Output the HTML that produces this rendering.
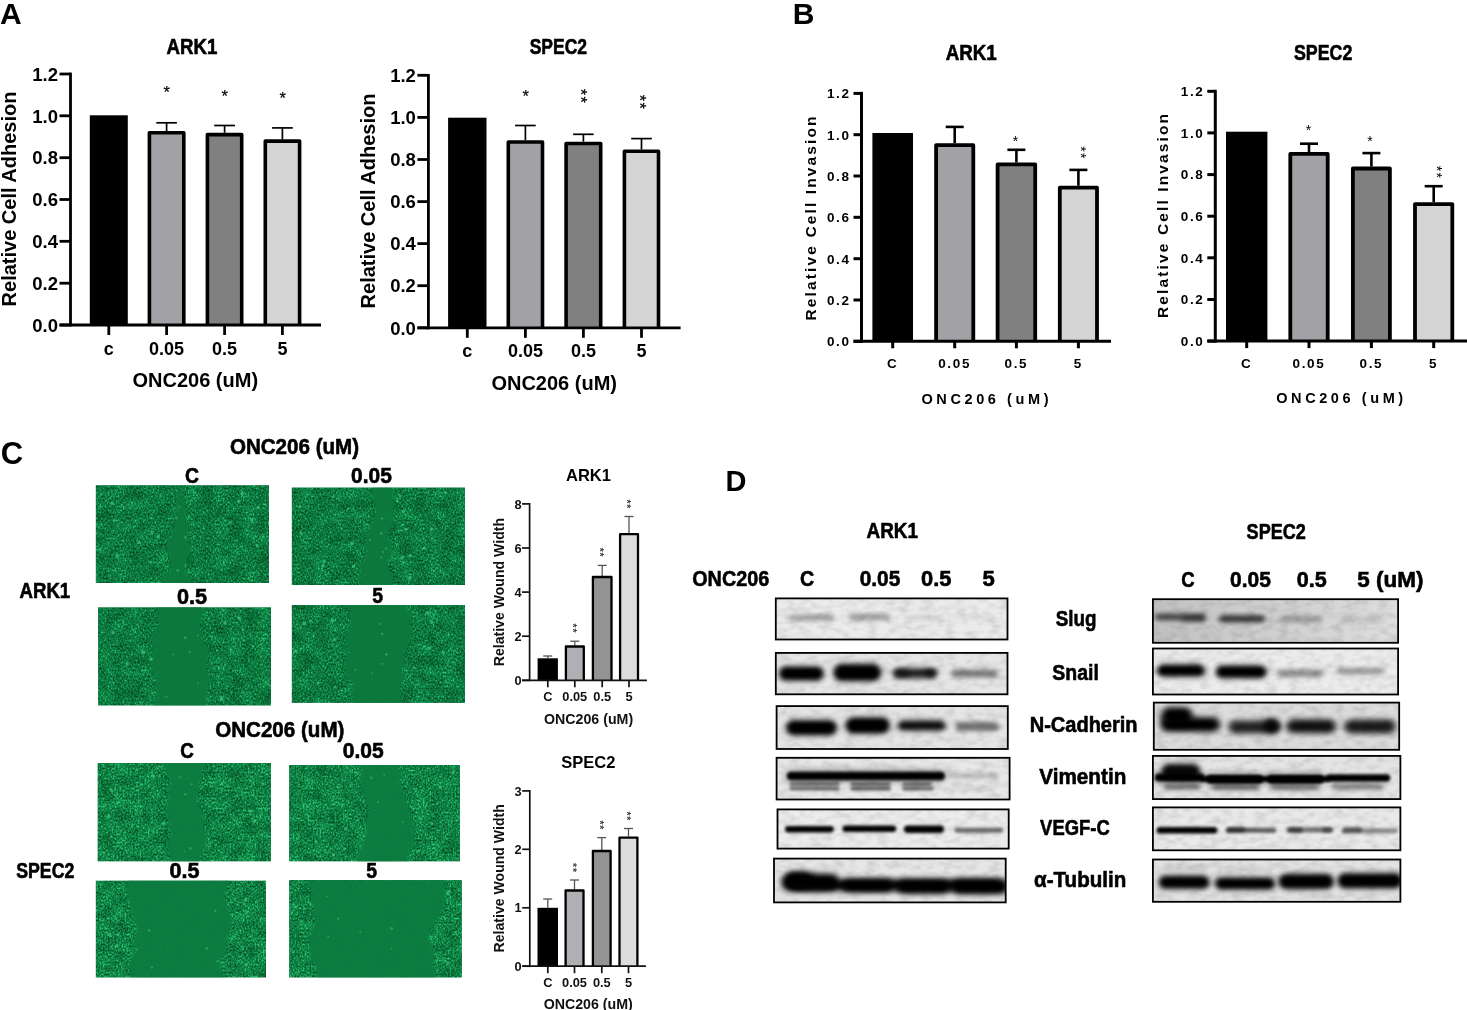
<!DOCTYPE html>
<html><head><meta charset="utf-8"><title>Figure</title>
<style>
html,body{margin:0;padding:0;background:#fff;}
body{width:1467px;height:1010px;overflow:hidden;}
svg{display:block;font-family:"Liberation Sans",sans-serif;}
</style></head><body>
<svg width="1467" height="1010" viewBox="0 0 1467 1010">
<defs>
<filter id="noiseA" x="0" y="0" width="100%" height="100%" color-interpolation-filters="sRGB">
<feTurbulence type="fractalNoise" baseFrequency="0.6 0.5" numOctaves="2" seed="7" result="t"/>
<feColorMatrix in="t" type="matrix" values="1.7 0 0 0 -0.35  1.7 0 0 0 -0.35  1.7 0 0 0 -0.35  0 0 0 0 1" result="c"/>
<feTurbulence type="fractalNoise" baseFrequency="0.07 0.09" numOctaves="2" seed="27" result="t2"/>
<feColorMatrix in="t2" type="matrix" values="0 1 0 0 0  0 1 0 0 0  0 1 0 0 0  0 0 0 0 1" result="c2"/>
<feComposite in="c" in2="c2" operator="arithmetic" k1="0" k2="1" k3="0.6" k4="-0.3" result="m"/>
<feComponentTransfer in="m">
<feFuncR type="table" tableValues="0.02 0.03 0.04 0.06 0.09 0.16"/>
<feFuncG type="table" tableValues="0.28 0.36 0.44 0.51 0.61 0.76"/>
<feFuncB type="table" tableValues="0.14 0.18 0.22 0.27 0.34 0.45"/>
<feFuncA type="linear" slope="0" intercept="1"/>
</feComponentTransfer>
<feGaussianBlur stdDeviation="0.55"/>
<feComposite operator="in" in2="SourceGraphic"/>
</filter>
<filter id="noiseB" x="0" y="0" width="100%" height="100%" color-interpolation-filters="sRGB">
<feTurbulence type="fractalNoise" baseFrequency="0.6 0.5" numOctaves="2" seed="11" result="t"/>
<feColorMatrix in="t" type="matrix" values="1.7 0 0 0 -0.35  1.7 0 0 0 -0.35  1.7 0 0 0 -0.35  0 0 0 0 1" result="c"/>
<feTurbulence type="fractalNoise" baseFrequency="0.07 0.09" numOctaves="2" seed="31" result="t2"/>
<feColorMatrix in="t2" type="matrix" values="0 1 0 0 0  0 1 0 0 0  0 1 0 0 0  0 0 0 0 1" result="c2"/>
<feComposite in="c" in2="c2" operator="arithmetic" k1="0" k2="1" k3="0.6" k4="-0.3" result="m"/>
<feComponentTransfer in="m">
<feFuncR type="table" tableValues="0.02 0.03 0.05 0.07 0.11 0.18"/>
<feFuncG type="table" tableValues="0.30 0.38 0.47 0.54 0.65 0.79"/>
<feFuncB type="table" tableValues="0.15 0.19 0.24 0.29 0.36 0.47"/>
<feFuncA type="linear" slope="0" intercept="1"/>
</feComponentTransfer>
<feGaussianBlur stdDeviation="0.55"/>
<feComposite operator="in" in2="SourceGraphic"/>
</filter>
<filter id="wb" x="-10%" y="-10%" width="120%" height="120%"><feGaussianBlur stdDeviation="1.1"/></filter>
<clipPath id="ci0"><rect x="95.9" y="485.4" width="173.1" height="97.6"/></clipPath>
<clipPath id="ci1"><rect x="291.9" y="487.7" width="173.1" height="97.3"/></clipPath>
<clipPath id="ci2"><rect x="98.2" y="607.5" width="172.8" height="97.8"/></clipPath>
<clipPath id="ci3"><rect x="291.9" y="605.2" width="173.1" height="97.5"/></clipPath>
<clipPath id="ci4"><rect x="97.8" y="763.0" width="173.2" height="98.2"/></clipPath>
<clipPath id="ci5"><rect x="289.3" y="765.0" width="170.7" height="96.2"/></clipPath>
<clipPath id="ci6"><rect x="95.9" y="880.8" width="170.1" height="96.5"/></clipPath>
<clipPath id="ci7"><rect x="289.3" y="880.2" width="172.4" height="97.1"/></clipPath>
<filter id="b1" x="-30%" y="-400%" width="160%" height="900%"><feGaussianBlur stdDeviation="1.8 1.6"/></filter>
<filter id="b2" x="-30%" y="-400%" width="160%" height="900%"><feGaussianBlur stdDeviation="2.4 2.0"/></filter>
<filter id="b3" x="-30%" y="-400%" width="160%" height="900%"><feGaussianBlur stdDeviation="3.0 2.6"/></filter>
<filter id="bgn" x="0" y="0" width="100%" height="100%"><feTurbulence type="fractalNoise" baseFrequency="0.09 0.16" numOctaves="2" seed="4"/><feColorMatrix type="matrix" values="0 0 0 0 0  0 0 0 0 0  0 0 0 0 0  0.22 0 0 0 -0.085"/><feComposite operator="in" in2="SourceGraphic"/></filter>
<clipPath id="c0"><rect x="775.8" y="598.4" width="231.7" height="41.1"/></clipPath>
<clipPath id="c1"><rect x="775.8" y="652.9" width="231.7" height="41.4"/></clipPath>
<clipPath id="c2"><rect x="776.6" y="706.1" width="231.2" height="42.9"/></clipPath>
<clipPath id="c3"><rect x="776.6" y="757.8" width="233.0" height="41.7"/></clipPath>
<clipPath id="c4"><rect x="777.5" y="809.4" width="231.2" height="39.2"/></clipPath>
<clipPath id="c5"><rect x="774.0" y="858.6" width="231.7" height="43.8"/></clipPath>
<linearGradient id="sg" x1="0" x2="1" y1="0" y2="0"><stop offset="0" stop-color="#c2c2c2"/><stop offset="0.5" stop-color="#cfcfcf"/><stop offset="1" stop-color="#dedede"/></linearGradient>
<clipPath id="c6"><rect x="1152.9" y="599.2" width="245.2" height="43.6"/></clipPath>
<clipPath id="c7"><rect x="1152.9" y="648.5" width="245.2" height="46.0"/></clipPath>
<clipPath id="c8"><rect x="1153.8" y="702.6" width="245.4" height="47.2"/></clipPath>
<clipPath id="c9"><rect x="1152.9" y="755.9" width="247.5" height="43.2"/></clipPath>
<clipPath id="c10"><rect x="1152.9" y="807.4" width="247.5" height="42.9"/></clipPath>
<clipPath id="c11"><rect x="1152.9" y="859.5" width="247.5" height="42.3"/></clipPath>
</defs>
<text x="0.0" y="24.3" font-size="30" font-weight="bold" text-anchor="start" fill="#000" >A</text>
<text x="166.5" y="54.0" font-size="21.5" font-weight="bold" text-anchor="start" fill="#000" textLength="50.8" lengthAdjust="spacingAndGlyphs" stroke="#000" stroke-width="0.6">ARK1</text>
<rect x="89.8" y="115.3" width="38.0" height="209.7" fill="#000" />
<line x1="166.6" y1="131.0" x2="166.6" y2="122.8" stroke="#000" stroke-width="1.7"/>
<line x1="156.3" y1="122.8" x2="176.9" y2="122.8" stroke="#000" stroke-width="1.7"/>
<path d="M149.4 325.0V132.8H183.8V325.0" fill="#a2a1a6" stroke="#000" stroke-width="3.6" stroke-linejoin="round"/>
<line x1="224.6" y1="132.8" x2="224.6" y2="125.5" stroke="#000" stroke-width="1.7"/>
<line x1="214.2" y1="125.5" x2="234.9" y2="125.5" stroke="#000" stroke-width="1.7"/>
<path d="M207.4 325.0V134.6H241.7V325.0" fill="#808080" stroke="#000" stroke-width="3.6" stroke-linejoin="round"/>
<line x1="282.4" y1="139.3" x2="282.4" y2="127.9" stroke="#000" stroke-width="1.7"/>
<line x1="272.1" y1="127.9" x2="292.8" y2="127.9" stroke="#000" stroke-width="1.7"/>
<path d="M265.3 325.0V141.1H299.6V325.0" fill="#d4d4d4" stroke="#000" stroke-width="3.6" stroke-linejoin="round"/>
<line x1="70.5" y1="72.6" x2="70.5" y2="326.4" stroke="#000" stroke-width="2.8"/>
<line x1="59.5" y1="325.0" x2="321.0" y2="325.0" stroke="#000" stroke-width="2.8"/>
<line x1="59.5" y1="325.0" x2="70.5" y2="325.0" stroke="#000" stroke-width="2.8"/>
<text x="58.0" y="331.7" font-size="18.5" font-weight="bold" text-anchor="end" fill="#000" >0.0</text>
<line x1="59.5" y1="283.2" x2="70.5" y2="283.2" stroke="#000" stroke-width="2.8"/>
<text x="58.0" y="289.8" font-size="18.5" font-weight="bold" text-anchor="end" fill="#000" >0.2</text>
<line x1="59.5" y1="241.3" x2="70.5" y2="241.3" stroke="#000" stroke-width="2.8"/>
<text x="58.0" y="248.0" font-size="18.5" font-weight="bold" text-anchor="end" fill="#000" >0.4</text>
<line x1="59.5" y1="199.5" x2="70.5" y2="199.5" stroke="#000" stroke-width="2.8"/>
<text x="58.0" y="206.2" font-size="18.5" font-weight="bold" text-anchor="end" fill="#000" >0.6</text>
<line x1="59.5" y1="157.7" x2="70.5" y2="157.7" stroke="#000" stroke-width="2.8"/>
<text x="58.0" y="164.3" font-size="18.5" font-weight="bold" text-anchor="end" fill="#000" >0.8</text>
<line x1="59.5" y1="115.8" x2="70.5" y2="115.8" stroke="#000" stroke-width="2.8"/>
<text x="58.0" y="122.5" font-size="18.5" font-weight="bold" text-anchor="end" fill="#000" >1.0</text>
<line x1="59.5" y1="74.0" x2="70.5" y2="74.0" stroke="#000" stroke-width="2.8"/>
<text x="58.0" y="80.7" font-size="18.5" font-weight="bold" text-anchor="end" fill="#000" >1.2</text>
<line x1="108.8" y1="325.0" x2="108.8" y2="335.0" stroke="#000" stroke-width="2.8"/>
<text x="108.8" y="354.5" font-size="18" font-weight="bold" text-anchor="middle" fill="#000" >c</text>
<line x1="166.6" y1="325.0" x2="166.6" y2="335.0" stroke="#000" stroke-width="2.8"/>
<text x="166.6" y="354.5" font-size="18" font-weight="bold" text-anchor="middle" fill="#000" >0.05</text>
<line x1="224.6" y1="325.0" x2="224.6" y2="335.0" stroke="#000" stroke-width="2.8"/>
<text x="224.6" y="354.5" font-size="18" font-weight="bold" text-anchor="middle" fill="#000" >0.5</text>
<line x1="282.4" y1="325.0" x2="282.4" y2="335.0" stroke="#000" stroke-width="2.8"/>
<text x="282.4" y="354.5" font-size="18" font-weight="bold" text-anchor="middle" fill="#000" >5</text>
<text x="195.3" y="386.7" font-size="20" font-weight="bold" text-anchor="middle" fill="#000" >ONC206 (uM)</text>
<text x="16.0" y="199.0" font-size="20" font-weight="bold" text-anchor="middle" fill="#000" transform="rotate(-90 16.0 199.0)" >Relative Cell Adhesion</text>
<text x="166.7" y="98.3" font-size="16.5" font-weight="normal" text-anchor="middle" fill="#000" stroke="#000" stroke-width="0.2">*</text>
<text x="224.7" y="101.5" font-size="16.5" font-weight="normal" text-anchor="middle" fill="#000" stroke="#000" stroke-width="0.2">*</text>
<text x="282.7" y="104.2" font-size="16.5" font-weight="normal" text-anchor="middle" fill="#000" stroke="#000" stroke-width="0.2">*</text>
<text x="529.7" y="53.8" font-size="21.5" font-weight="bold" text-anchor="start" fill="#000" textLength="57.3" lengthAdjust="spacingAndGlyphs" stroke="#000" stroke-width="0.6">SPEC2</text>
<rect x="448.1" y="117.7" width="38.4" height="210.1" fill="#000" />
<line x1="525.4" y1="140.2" x2="525.4" y2="125.5" stroke="#000" stroke-width="1.7"/>
<line x1="515.1" y1="125.5" x2="535.7" y2="125.5" stroke="#000" stroke-width="1.7"/>
<path d="M508.3 327.8V142.0H542.5V327.8" fill="#a2a1a6" stroke="#000" stroke-width="3.6" stroke-linejoin="round"/>
<line x1="583.4" y1="141.7" x2="583.4" y2="134.3" stroke="#000" stroke-width="1.7"/>
<line x1="573.1" y1="134.3" x2="593.7" y2="134.3" stroke="#000" stroke-width="1.7"/>
<path d="M566.1 327.8V143.5H600.7V327.8" fill="#808080" stroke="#000" stroke-width="3.6" stroke-linejoin="round"/>
<line x1="641.5" y1="149.5" x2="641.5" y2="138.6" stroke="#000" stroke-width="1.7"/>
<line x1="631.2" y1="138.6" x2="651.8" y2="138.6" stroke="#000" stroke-width="1.7"/>
<path d="M624.4 327.8V151.3H658.5V327.8" fill="#d4d4d4" stroke="#000" stroke-width="3.6" stroke-linejoin="round"/>
<line x1="428.4" y1="73.9" x2="428.4" y2="329.2" stroke="#000" stroke-width="2.8"/>
<line x1="417.4" y1="327.8" x2="680.6" y2="327.8" stroke="#000" stroke-width="2.8"/>
<line x1="417.4" y1="327.8" x2="428.4" y2="327.8" stroke="#000" stroke-width="2.8"/>
<text x="415.9" y="334.5" font-size="18.5" font-weight="bold" text-anchor="end" fill="#000" >0.0</text>
<line x1="417.4" y1="285.7" x2="428.4" y2="285.7" stroke="#000" stroke-width="2.8"/>
<text x="415.9" y="292.4" font-size="18.5" font-weight="bold" text-anchor="end" fill="#000" >0.2</text>
<line x1="417.4" y1="243.6" x2="428.4" y2="243.6" stroke="#000" stroke-width="2.8"/>
<text x="415.9" y="250.3" font-size="18.5" font-weight="bold" text-anchor="end" fill="#000" >0.4</text>
<line x1="417.4" y1="201.6" x2="428.4" y2="201.6" stroke="#000" stroke-width="2.8"/>
<text x="415.9" y="208.2" font-size="18.5" font-weight="bold" text-anchor="end" fill="#000" >0.6</text>
<line x1="417.4" y1="159.5" x2="428.4" y2="159.5" stroke="#000" stroke-width="2.8"/>
<text x="415.9" y="166.1" font-size="18.5" font-weight="bold" text-anchor="end" fill="#000" >0.8</text>
<line x1="417.4" y1="117.4" x2="428.4" y2="117.4" stroke="#000" stroke-width="2.8"/>
<text x="415.9" y="124.0" font-size="18.5" font-weight="bold" text-anchor="end" fill="#000" >1.0</text>
<line x1="417.4" y1="75.3" x2="428.4" y2="75.3" stroke="#000" stroke-width="2.8"/>
<text x="415.9" y="82.0" font-size="18.5" font-weight="bold" text-anchor="end" fill="#000" >1.2</text>
<line x1="467.3" y1="327.8" x2="467.3" y2="337.8" stroke="#000" stroke-width="2.8"/>
<text x="467.3" y="356.8" font-size="18" font-weight="bold" text-anchor="middle" fill="#000" >c</text>
<line x1="525.4" y1="327.8" x2="525.4" y2="337.8" stroke="#000" stroke-width="2.8"/>
<text x="525.4" y="356.8" font-size="18" font-weight="bold" text-anchor="middle" fill="#000" >0.05</text>
<line x1="583.4" y1="327.8" x2="583.4" y2="337.8" stroke="#000" stroke-width="2.8"/>
<text x="583.4" y="356.8" font-size="18" font-weight="bold" text-anchor="middle" fill="#000" >0.5</text>
<line x1="641.5" y1="327.8" x2="641.5" y2="337.8" stroke="#000" stroke-width="2.8"/>
<text x="641.5" y="356.8" font-size="18" font-weight="bold" text-anchor="middle" fill="#000" >5</text>
<text x="554.2" y="389.5" font-size="20" font-weight="bold" text-anchor="middle" fill="#000" >ONC206 (uM)</text>
<text x="374.5" y="201.0" font-size="20" font-weight="bold" text-anchor="middle" fill="#000" transform="rotate(-90 374.5 201.0)" >Relative Cell Adhesion</text>
<text x="525.7" y="102.3" font-size="16.5" font-weight="normal" text-anchor="middle" fill="#000" stroke="#000" stroke-width="0.2">*</text>
<text x="584.1" y="104.3" font-size="16.5" font-weight="normal" text-anchor="middle" fill="#000" stroke="#000" stroke-width="0.2" letter-spacing="1.3" transform="rotate(90 583.5 95.9)">**</text>
<text x="643.0" y="110.4" font-size="16.5" font-weight="normal" text-anchor="middle" fill="#000" stroke="#000" stroke-width="0.2" letter-spacing="1.3" transform="rotate(90 642.4 102.0)">**</text>
<text x="792.8" y="24.2" font-size="30" font-weight="bold" text-anchor="start" fill="#000" >B</text>
<text x="945.7" y="60.0" font-size="21.5" font-weight="bold" text-anchor="start" fill="#000" textLength="51.1" lengthAdjust="spacingAndGlyphs" stroke="#000" stroke-width="0.6">ARK1</text>
<rect x="872.4" y="133.0" width="40.6" height="208.3" fill="#000" />
<line x1="954.7" y1="143.3" x2="954.7" y2="126.9" stroke="#000" stroke-width="2.6"/>
<line x1="945.7" y1="126.9" x2="963.7" y2="126.9" stroke="#000" stroke-width="2.6"/>
<path d="M936.1 341.3V145.2H973.3V341.3" fill="#a2a1a6" stroke="#000" stroke-width="3.8" stroke-linejoin="round"/>
<line x1="1016.4" y1="162.5" x2="1016.4" y2="149.8" stroke="#000" stroke-width="2.6"/>
<line x1="1007.4" y1="149.8" x2="1025.4" y2="149.8" stroke="#000" stroke-width="2.6"/>
<path d="M997.6 341.3V164.4H1035.2V341.3" fill="#808080" stroke="#000" stroke-width="3.8" stroke-linejoin="round"/>
<line x1="1078.4" y1="185.8" x2="1078.4" y2="169.9" stroke="#000" stroke-width="2.6"/>
<line x1="1069.4" y1="169.9" x2="1087.4" y2="169.9" stroke="#000" stroke-width="2.6"/>
<path d="M1059.8 341.3V187.7H1097.0V341.3" fill="#d4d4d4" stroke="#000" stroke-width="3.8" stroke-linejoin="round"/>
<line x1="861.5" y1="91.9" x2="861.5" y2="342.8" stroke="#000" stroke-width="3"/>
<line x1="853.5" y1="341.3" x2="1111.0" y2="341.3" stroke="#000" stroke-width="3"/>
<line x1="853.5" y1="341.3" x2="861.5" y2="341.3" stroke="#000" stroke-width="3"/>
<text x="850.6" y="346.2" font-size="13.5" font-weight="bold" text-anchor="end" fill="#000" letter-spacing="1.6">0.0</text>
<line x1="853.5" y1="300.0" x2="861.5" y2="300.0" stroke="#000" stroke-width="3"/>
<text x="850.6" y="304.8" font-size="13.5" font-weight="bold" text-anchor="end" fill="#000" letter-spacing="1.6">0.2</text>
<line x1="853.5" y1="258.7" x2="861.5" y2="258.7" stroke="#000" stroke-width="3"/>
<text x="850.6" y="263.5" font-size="13.5" font-weight="bold" text-anchor="end" fill="#000" letter-spacing="1.6">0.4</text>
<line x1="853.5" y1="217.3" x2="861.5" y2="217.3" stroke="#000" stroke-width="3"/>
<text x="850.6" y="222.2" font-size="13.5" font-weight="bold" text-anchor="end" fill="#000" letter-spacing="1.6">0.6</text>
<line x1="853.5" y1="176.0" x2="861.5" y2="176.0" stroke="#000" stroke-width="3"/>
<text x="850.6" y="180.9" font-size="13.5" font-weight="bold" text-anchor="end" fill="#000" letter-spacing="1.6">0.8</text>
<line x1="853.5" y1="134.7" x2="861.5" y2="134.7" stroke="#000" stroke-width="3"/>
<text x="850.6" y="139.6" font-size="13.5" font-weight="bold" text-anchor="end" fill="#000" letter-spacing="1.6">1.0</text>
<line x1="853.5" y1="93.4" x2="861.5" y2="93.4" stroke="#000" stroke-width="3"/>
<text x="850.6" y="98.3" font-size="13.5" font-weight="bold" text-anchor="end" fill="#000" letter-spacing="1.6">1.2</text>
<line x1="892.7" y1="341.3" x2="892.7" y2="348.3" stroke="#000" stroke-width="3"/>
<text x="892.7" y="368.3" font-size="13.5" font-weight="bold" text-anchor="middle" fill="#000" letter-spacing="1.7">C</text>
<line x1="954.7" y1="341.3" x2="954.7" y2="348.3" stroke="#000" stroke-width="3"/>
<text x="954.7" y="368.3" font-size="13.5" font-weight="bold" text-anchor="middle" fill="#000" letter-spacing="1.7">0.05</text>
<line x1="1016.4" y1="341.3" x2="1016.4" y2="348.3" stroke="#000" stroke-width="3"/>
<text x="1016.4" y="368.3" font-size="13.5" font-weight="bold" text-anchor="middle" fill="#000" letter-spacing="1.7">0.5</text>
<line x1="1078.4" y1="341.3" x2="1078.4" y2="348.3" stroke="#000" stroke-width="3"/>
<text x="1078.4" y="368.3" font-size="13.5" font-weight="bold" text-anchor="middle" fill="#000" letter-spacing="1.7">5</text>
<text x="985.0" y="403.5" font-size="14.5" font-weight="bold" text-anchor="middle" fill="#000" textLength="127.0" lengthAdjust="spacing" >ONC206 (uM)</text>
<text x="815.7" y="218.5" font-size="15.5" font-weight="bold" text-anchor="middle" fill="#000" textLength="204.0" lengthAdjust="spacing" transform="rotate(-90 815.7 218.5)" >Relative Cell Invasion</text>
<text x="1015.5" y="146.0" font-size="14" font-weight="normal" text-anchor="middle" fill="#000" >*</text>
<text x="1083.6" y="159.3" font-size="14" font-weight="normal" text-anchor="middle" fill="#000"  letter-spacing="1.3" transform="rotate(90 1082.9 152.2)">**</text>
<text x="1293.9" y="60.0" font-size="21.5" font-weight="bold" text-anchor="start" fill="#000" textLength="58.4" lengthAdjust="spacingAndGlyphs" stroke="#000" stroke-width="0.6">SPEC2</text>
<rect x="1226.0" y="131.7" width="41.4" height="209.4" fill="#000" />
<line x1="1309.0" y1="152.0" x2="1309.0" y2="143.7" stroke="#000" stroke-width="2.6"/>
<line x1="1300.0" y1="143.7" x2="1318.0" y2="143.7" stroke="#000" stroke-width="2.6"/>
<path d="M1290.3 341.1V153.9H1327.7V341.1" fill="#a2a1a6" stroke="#000" stroke-width="3.8" stroke-linejoin="round"/>
<line x1="1371.4" y1="166.6" x2="1371.4" y2="153.1" stroke="#000" stroke-width="2.6"/>
<line x1="1362.4" y1="153.1" x2="1380.4" y2="153.1" stroke="#000" stroke-width="2.6"/>
<path d="M1352.9 341.1V168.5H1389.9V341.1" fill="#808080" stroke="#000" stroke-width="3.8" stroke-linejoin="round"/>
<line x1="1433.7" y1="202.2" x2="1433.7" y2="186.2" stroke="#000" stroke-width="2.6"/>
<line x1="1424.7" y1="186.2" x2="1442.7" y2="186.2" stroke="#000" stroke-width="2.6"/>
<path d="M1415.0 341.1V204.1H1452.3V341.1" fill="#d4d4d4" stroke="#000" stroke-width="3.8" stroke-linejoin="round"/>
<line x1="1215.3" y1="89.8" x2="1215.3" y2="342.6" stroke="#000" stroke-width="3"/>
<line x1="1207.3" y1="341.1" x2="1467.0" y2="341.1" stroke="#000" stroke-width="3"/>
<line x1="1207.3" y1="341.1" x2="1215.3" y2="341.1" stroke="#000" stroke-width="3"/>
<text x="1204.4" y="346.0" font-size="13.5" font-weight="bold" text-anchor="end" fill="#000" letter-spacing="1.6">0.0</text>
<line x1="1207.3" y1="299.5" x2="1215.3" y2="299.5" stroke="#000" stroke-width="3"/>
<text x="1204.4" y="304.3" font-size="13.5" font-weight="bold" text-anchor="end" fill="#000" letter-spacing="1.6">0.2</text>
<line x1="1207.3" y1="257.8" x2="1215.3" y2="257.8" stroke="#000" stroke-width="3"/>
<text x="1204.4" y="262.7" font-size="13.5" font-weight="bold" text-anchor="end" fill="#000" letter-spacing="1.6">0.4</text>
<line x1="1207.3" y1="216.2" x2="1215.3" y2="216.2" stroke="#000" stroke-width="3"/>
<text x="1204.4" y="221.1" font-size="13.5" font-weight="bold" text-anchor="end" fill="#000" letter-spacing="1.6">0.6</text>
<line x1="1207.3" y1="174.6" x2="1215.3" y2="174.6" stroke="#000" stroke-width="3"/>
<text x="1204.4" y="179.4" font-size="13.5" font-weight="bold" text-anchor="end" fill="#000" letter-spacing="1.6">0.8</text>
<line x1="1207.3" y1="132.9" x2="1215.3" y2="132.9" stroke="#000" stroke-width="3"/>
<text x="1204.4" y="137.8" font-size="13.5" font-weight="bold" text-anchor="end" fill="#000" letter-spacing="1.6">1.0</text>
<line x1="1207.3" y1="91.3" x2="1215.3" y2="91.3" stroke="#000" stroke-width="3"/>
<text x="1204.4" y="96.2" font-size="13.5" font-weight="bold" text-anchor="end" fill="#000" letter-spacing="1.6">1.2</text>
<line x1="1246.7" y1="341.1" x2="1246.7" y2="348.1" stroke="#000" stroke-width="3"/>
<text x="1246.7" y="367.9" font-size="13.5" font-weight="bold" text-anchor="middle" fill="#000" letter-spacing="1.7">C</text>
<line x1="1309.0" y1="341.1" x2="1309.0" y2="348.1" stroke="#000" stroke-width="3"/>
<text x="1309.0" y="367.9" font-size="13.5" font-weight="bold" text-anchor="middle" fill="#000" letter-spacing="1.7">0.05</text>
<line x1="1371.4" y1="341.1" x2="1371.4" y2="348.1" stroke="#000" stroke-width="3"/>
<text x="1371.4" y="367.9" font-size="13.5" font-weight="bold" text-anchor="middle" fill="#000" letter-spacing="1.7">0.5</text>
<line x1="1433.7" y1="341.1" x2="1433.7" y2="348.1" stroke="#000" stroke-width="3"/>
<text x="1433.7" y="367.9" font-size="13.5" font-weight="bold" text-anchor="middle" fill="#000" letter-spacing="1.7">5</text>
<text x="1339.7" y="402.8" font-size="14.5" font-weight="bold" text-anchor="middle" fill="#000" textLength="127.0" lengthAdjust="spacing" >ONC206 (uM)</text>
<text x="1168.2" y="216.0" font-size="15.5" font-weight="bold" text-anchor="middle" fill="#000" textLength="204.0" lengthAdjust="spacing" transform="rotate(-90 1168.2 216.0)" >Relative Cell Invasion</text>
<text x="1308.4" y="134.7" font-size="14" font-weight="normal" text-anchor="middle" fill="#000" >*</text>
<text x="1370.0" y="146.0" font-size="14" font-weight="normal" text-anchor="middle" fill="#000" >*</text>
<text x="1439.4" y="178.9" font-size="14" font-weight="normal" text-anchor="middle" fill="#000"  letter-spacing="1.3" transform="rotate(90 1438.7 171.8)">**</text>
<text x="0.8" y="463.9" font-size="31" font-weight="bold" text-anchor="start" fill="#000" >C</text>
<text x="229.9" y="453.7" font-size="21.5" font-weight="bold" text-anchor="start" fill="#000" textLength="129.2" lengthAdjust="spacingAndGlyphs" stroke="#000" stroke-width="0.6">ONC206 (uM)</text>
<text x="185.1" y="483.2" font-size="21.5" font-weight="bold" text-anchor="start" fill="#000" textLength="14.0" lengthAdjust="spacingAndGlyphs" stroke="#000" stroke-width="0.6">C</text>
<text x="351.0" y="483.2" font-size="21.5" font-weight="bold" text-anchor="start" fill="#000" textLength="40.8" lengthAdjust="spacingAndGlyphs" stroke="#000" stroke-width="0.6">0.05</text>
<text x="19.5" y="597.7" font-size="21.5" font-weight="bold" text-anchor="start" fill="#000" textLength="50.7" lengthAdjust="spacingAndGlyphs" stroke="#000" stroke-width="0.6">ARK1</text>
<text x="176.9" y="604.2" font-size="21.5" font-weight="bold" text-anchor="start" fill="#000" textLength="30.1" lengthAdjust="spacingAndGlyphs" stroke="#000" stroke-width="0.6">0.5</text>
<text x="372.2" y="602.5" font-size="21.5" font-weight="bold" text-anchor="start" fill="#000" textLength="10.8" lengthAdjust="spacingAndGlyphs" stroke="#000" stroke-width="0.6">5</text>
<text x="215.2" y="736.8" font-size="21.5" font-weight="bold" text-anchor="start" fill="#000" textLength="129.2" lengthAdjust="spacingAndGlyphs" stroke="#000" stroke-width="0.6">ONC206 (uM)</text>
<text x="180.2" y="757.8" font-size="21.5" font-weight="bold" text-anchor="start" fill="#000" textLength="13.6" lengthAdjust="spacingAndGlyphs" stroke="#000" stroke-width="0.6">C</text>
<text x="342.8" y="757.8" font-size="21.5" font-weight="bold" text-anchor="start" fill="#000" textLength="40.9" lengthAdjust="spacingAndGlyphs" stroke="#000" stroke-width="0.6">0.05</text>
<text x="16.2" y="877.9" font-size="21.5" font-weight="bold" text-anchor="start" fill="#000" textLength="58.2" lengthAdjust="spacingAndGlyphs" stroke="#000" stroke-width="0.6">SPEC2</text>
<text x="169.4" y="877.9" font-size="21.5" font-weight="bold" text-anchor="start" fill="#000" textLength="30.0" lengthAdjust="spacingAndGlyphs" stroke="#000" stroke-width="0.6">0.5</text>
<text x="366.3" y="877.9" font-size="21.5" font-weight="bold" text-anchor="start" fill="#000" textLength="10.8" lengthAdjust="spacingAndGlyphs" stroke="#000" stroke-width="0.6">5</text>
<rect x="95.9" y="485.4" width="173.1" height="97.6" fill="#0f7a3f" />
<rect x="95.9" y="485.4" width="173.1" height="97.6" fill="#fff" filter="url(#noiseA)"/>
<g clip-path="url(#ci0)"><path d="M179.9 481.4 L179.1 488.9 L178.3 496.5 L175.4 504.0 L176.6 511.6 L176.9 519.1 L174.3 526.7 L172.9 534.2 L167.9 541.7 L166.8 549.3 L169.7 556.8 L171.0 564.4 L169.6 571.9 L163.0 579.5 L161.1 587.0 L188.9 587.0 L191.4 579.5 L185.4 571.9 L186.3 564.4 L188.3 556.8 L192.0 549.3 L187.2 541.7 L188.8 534.2 L185.8 526.7 L185.2 519.1 L186.2 511.6 L184.5 504.0 L183.8 496.5 L181.8 488.9 L180.0 481.4Z" fill="#0e793d" opacity="0.95" filter="url(#wb)"/>
<circle cx="185.7" cy="564.7" r="1.1" fill="#2fae66" opacity="0.7"/>
<circle cx="185.5" cy="537.4" r="1.3" fill="#2fae66" opacity="0.7"/>
<circle cx="177.7" cy="570.4" r="1.3" fill="#2fae66" opacity="0.7"/>
<circle cx="185.6" cy="566.5" r="1.1" fill="#2fae66" opacity="0.7"/>
<circle cx="179.3" cy="506.8" r="1.0" fill="#2fae66" opacity="0.7"/>
<circle cx="176.2" cy="517.9" r="1.3" fill="#2fae66" opacity="0.7"/>
<circle cx="99.9" cy="549.8" r="1.3" fill="#3cc47a" opacity="0.75"/>
<circle cx="150.9" cy="562.2" r="1.4" fill="#3cc47a" opacity="0.75"/>
<circle cx="151.8" cy="532.6" r="1.6" fill="#3cc47a" opacity="0.75"/>
<circle cx="108.8" cy="575.9" r="1.0" fill="#3cc47a" opacity="0.75"/>
<circle cx="224.0" cy="564.5" r="1.0" fill="#3cc47a" opacity="0.75"/>
<circle cx="230.3" cy="522.4" r="1.5" fill="#3cc47a" opacity="0.75"/>
<circle cx="100.9" cy="494.4" r="1.2" fill="#3cc47a" opacity="0.75"/>
<circle cx="258.1" cy="507.5" r="1.7" fill="#3cc47a" opacity="0.75"/>
<circle cx="253.8" cy="573.0" r="1.3" fill="#3cc47a" opacity="0.75"/>
<circle cx="158.3" cy="536.4" r="1.7" fill="#3cc47a" opacity="0.75"/>
<circle cx="117.3" cy="556.0" r="1.7" fill="#3cc47a" opacity="0.75"/>
<circle cx="242.2" cy="493.5" r="1.9" fill="#3cc47a" opacity="0.75"/>
<circle cx="114.5" cy="520.2" r="1.5" fill="#3cc47a" opacity="0.75"/>
<circle cx="251.9" cy="520.1" r="1.8" fill="#3cc47a" opacity="0.75"/>
<circle cx="151.3" cy="518.1" r="1.2" fill="#3cc47a" opacity="0.75"/>
<circle cx="112.4" cy="503.4" r="1.6" fill="#3cc47a" opacity="0.75"/>
<circle cx="265.0" cy="504.5" r="1.0" fill="#3cc47a" opacity="0.75"/>
<circle cx="263.3" cy="537.1" r="1.4" fill="#3cc47a" opacity="0.75"/>
<circle cx="138.8" cy="542.5" r="1.7" fill="#3cc47a" opacity="0.75"/>
<circle cx="108.6" cy="570.7" r="1.0" fill="#3cc47a" opacity="0.75"/>
<circle cx="238.7" cy="501.7" r="1.7" fill="#3cc47a" opacity="0.75"/>
<circle cx="257.2" cy="545.7" r="1.7" fill="#3cc47a" opacity="0.75"/>
</g>
<rect x="291.9" y="487.7" width="173.1" height="97.3" fill="#0f7a3f" />
<rect x="291.9" y="487.7" width="173.1" height="97.3" fill="#fff" filter="url(#noiseA)"/>
<g clip-path="url(#ci1)"><path d="M376.3 483.7 L373.5 491.2 L372.0 498.7 L375.4 506.3 L376.4 513.8 L372.1 521.3 L369.0 528.8 L366.0 536.4 L363.9 543.9 L367.2 551.4 L364.3 558.9 L358.7 566.4 L361.2 574.0 L358.3 581.5 L359.7 589.0 L391.4 589.0 L391.9 581.5 L390.9 574.0 L387.0 566.4 L389.2 558.9 L392.2 551.4 L392.8 543.9 L387.2 536.4 L390.3 528.8 L393.6 521.3 L392.4 513.8 L394.5 506.3 L392.5 498.7 L394.0 491.2 L391.9 483.7Z" fill="#0e793d" opacity="0.95" filter="url(#wb)"/>
<circle cx="381.3" cy="557.6" r="1.1" fill="#2fae66" opacity="0.7"/>
<circle cx="382.0" cy="518.4" r="1.2" fill="#2fae66" opacity="0.7"/>
<circle cx="383.1" cy="552.0" r="1.1" fill="#2fae66" opacity="0.7"/>
<circle cx="386.2" cy="548.6" r="1.2" fill="#2fae66" opacity="0.7"/>
<circle cx="370.0" cy="540.2" r="1.1" fill="#2fae66" opacity="0.7"/>
<circle cx="381.4" cy="533.3" r="1.4" fill="#2fae66" opacity="0.7"/>
<circle cx="403.0" cy="562.4" r="1.3" fill="#3cc47a" opacity="0.75"/>
<circle cx="402.4" cy="557.2" r="1.7" fill="#3cc47a" opacity="0.75"/>
<circle cx="353.5" cy="566.4" r="1.8" fill="#3cc47a" opacity="0.75"/>
<circle cx="409.7" cy="578.0" r="1.9" fill="#3cc47a" opacity="0.75"/>
<circle cx="323.0" cy="565.8" r="1.8" fill="#3cc47a" opacity="0.75"/>
<circle cx="410.3" cy="555.6" r="1.7" fill="#3cc47a" opacity="0.75"/>
<circle cx="323.9" cy="560.9" r="1.5" fill="#3cc47a" opacity="0.75"/>
<circle cx="406.0" cy="529.4" r="1.6" fill="#3cc47a" opacity="0.75"/>
<circle cx="424.1" cy="548.3" r="1.6" fill="#3cc47a" opacity="0.75"/>
<circle cx="300.0" cy="506.6" r="1.4" fill="#3cc47a" opacity="0.75"/>
<circle cx="403.4" cy="511.7" r="1.6" fill="#3cc47a" opacity="0.75"/>
<circle cx="400.2" cy="496.2" r="1.4" fill="#3cc47a" opacity="0.75"/>
<circle cx="333.0" cy="497.3" r="1.1" fill="#3cc47a" opacity="0.75"/>
<circle cx="348.1" cy="508.5" r="1.2" fill="#3cc47a" opacity="0.75"/>
<circle cx="301.3" cy="533.3" r="1.3" fill="#3cc47a" opacity="0.75"/>
<circle cx="397.0" cy="544.2" r="1.2" fill="#3cc47a" opacity="0.75"/>
<circle cx="445.4" cy="492.6" r="1.4" fill="#3cc47a" opacity="0.75"/>
<circle cx="341.6" cy="528.5" r="1.1" fill="#3cc47a" opacity="0.75"/>
<circle cx="433.5" cy="525.3" r="1.0" fill="#3cc47a" opacity="0.75"/>
<circle cx="397.3" cy="500.9" r="1.5" fill="#3cc47a" opacity="0.75"/>
<circle cx="351.8" cy="543.4" r="1.9" fill="#3cc47a" opacity="0.75"/>
<circle cx="431.4" cy="529.3" r="1.7" fill="#3cc47a" opacity="0.75"/>
<circle cx="402.1" cy="524.9" r="1.1" fill="#3cc47a" opacity="0.75"/>
</g>
<rect x="98.2" y="607.5" width="172.8" height="97.8" fill="#0f7a3f" />
<rect x="98.2" y="607.5" width="172.8" height="97.8" fill="#fff" filter="url(#noiseA)"/>
<g clip-path="url(#ci2)"><path d="M156.1 603.5 L159.1 611.1 L157.4 618.6 L158.7 626.2 L152.3 633.7 L153.3 641.3 L153.7 648.8 L151.4 656.4 L149.0 664.0 L154.1 671.5 L156.4 679.1 L154.3 686.6 L156.5 694.2 L152.5 701.7 L155.3 709.3 L206.1 709.3 L205.5 701.7 L207.1 694.2 L207.0 686.6 L210.7 679.1 L206.4 671.5 L206.8 664.0 L208.9 656.4 L208.8 648.8 L202.0 641.3 L203.0 633.7 L199.0 626.2 L202.3 618.6 L204.2 611.1 L199.0 603.5Z" fill="#0e793d" opacity="0.95" filter="url(#wb)"/>
<circle cx="173.0" cy="654.5" r="1.0" fill="#2fae66" opacity="0.7"/>
<circle cx="189.8" cy="651.8" r="1.1" fill="#2fae66" opacity="0.7"/>
<circle cx="197.9" cy="683.2" r="0.9" fill="#2fae66" opacity="0.7"/>
<circle cx="185.4" cy="637.8" r="1.5" fill="#2fae66" opacity="0.7"/>
<circle cx="197.9" cy="635.5" r="1.1" fill="#2fae66" opacity="0.7"/>
<circle cx="166.4" cy="696.6" r="1.1" fill="#2fae66" opacity="0.7"/>
<circle cx="225.0" cy="622.8" r="1.7" fill="#3cc47a" opacity="0.75"/>
<circle cx="151.5" cy="659.3" r="1.3" fill="#3cc47a" opacity="0.75"/>
<circle cx="150.9" cy="659.0" r="1.4" fill="#3cc47a" opacity="0.75"/>
<circle cx="225.2" cy="664.4" r="1.0" fill="#3cc47a" opacity="0.75"/>
<circle cx="143.5" cy="652.5" r="1.8" fill="#3cc47a" opacity="0.75"/>
<circle cx="249.0" cy="660.4" r="1.0" fill="#3cc47a" opacity="0.75"/>
<circle cx="230.8" cy="650.0" r="1.5" fill="#3cc47a" opacity="0.75"/>
<circle cx="219.1" cy="668.0" r="1.4" fill="#3cc47a" opacity="0.75"/>
<circle cx="252.9" cy="646.3" r="1.4" fill="#3cc47a" opacity="0.75"/>
<circle cx="243.0" cy="629.7" r="1.3" fill="#3cc47a" opacity="0.75"/>
<circle cx="239.3" cy="618.2" r="1.8" fill="#3cc47a" opacity="0.75"/>
<circle cx="216.9" cy="650.5" r="1.3" fill="#3cc47a" opacity="0.75"/>
<circle cx="231.2" cy="692.5" r="1.1" fill="#3cc47a" opacity="0.75"/>
<circle cx="127.1" cy="664.0" r="1.7" fill="#3cc47a" opacity="0.75"/>
<circle cx="113.0" cy="632.6" r="1.7" fill="#3cc47a" opacity="0.75"/>
<circle cx="233.0" cy="670.8" r="1.0" fill="#3cc47a" opacity="0.75"/>
<circle cx="221.5" cy="698.5" r="1.9" fill="#3cc47a" opacity="0.75"/>
</g>
<rect x="291.9" y="605.2" width="173.1" height="97.5" fill="#0f7a3f" />
<rect x="291.9" y="605.2" width="173.1" height="97.5" fill="#fff" filter="url(#noiseA)"/>
<g clip-path="url(#ci3)"><path d="M347.3 601.2 L349.9 608.7 L349.7 616.3 L350.5 623.8 L347.5 631.3 L345.0 638.9 L346.2 646.4 L348.9 654.0 L346.0 661.5 L344.3 669.0 L348.1 676.6 L352.8 684.1 L351.4 691.6 L352.4 699.2 L356.0 706.7 L399.0 706.7 L400.3 699.2 L399.8 691.6 L400.8 684.1 L404.7 676.6 L400.9 669.0 L404.1 661.5 L403.9 654.0 L407.3 646.4 L411.7 638.9 L412.3 631.3 L407.9 623.8 L412.3 616.3 L406.6 608.7 L407.4 601.2Z" fill="#0e793d" opacity="0.95" filter="url(#wb)"/>
<circle cx="355.5" cy="670.1" r="1.0" fill="#2fae66" opacity="0.7"/>
<circle cx="386.4" cy="654.4" r="1.4" fill="#2fae66" opacity="0.7"/>
<circle cx="382.3" cy="663.8" r="1.1" fill="#2fae66" opacity="0.7"/>
<circle cx="382.1" cy="633.8" r="1.4" fill="#2fae66" opacity="0.7"/>
<circle cx="380.2" cy="624.0" r="1.0" fill="#2fae66" opacity="0.7"/>
<circle cx="372.4" cy="673.3" r="1.0" fill="#2fae66" opacity="0.7"/>
<circle cx="413.9" cy="667.6" r="1.1" fill="#3cc47a" opacity="0.75"/>
<circle cx="310.5" cy="621.0" r="1.5" fill="#3cc47a" opacity="0.75"/>
<circle cx="335.0" cy="687.0" r="1.4" fill="#3cc47a" opacity="0.75"/>
<circle cx="427.7" cy="612.7" r="1.7" fill="#3cc47a" opacity="0.75"/>
<circle cx="304.3" cy="623.3" r="1.9" fill="#3cc47a" opacity="0.75"/>
<circle cx="332.4" cy="620.3" r="1.9" fill="#3cc47a" opacity="0.75"/>
<circle cx="431.7" cy="622.3" r="1.6" fill="#3cc47a" opacity="0.75"/>
<circle cx="334.4" cy="639.3" r="1.6" fill="#3cc47a" opacity="0.75"/>
<circle cx="318.0" cy="683.0" r="1.6" fill="#3cc47a" opacity="0.75"/>
<circle cx="429.1" cy="648.1" r="1.8" fill="#3cc47a" opacity="0.75"/>
<circle cx="418.4" cy="644.8" r="1.1" fill="#3cc47a" opacity="0.75"/>
<circle cx="300.9" cy="627.8" r="1.0" fill="#3cc47a" opacity="0.75"/>
<circle cx="443.1" cy="652.3" r="1.7" fill="#3cc47a" opacity="0.75"/>
<circle cx="295.4" cy="651.3" r="1.8" fill="#3cc47a" opacity="0.75"/>
</g>
<rect x="97.8" y="763.0" width="173.2" height="98.2" fill="#0f7a3f" />
<rect x="97.8" y="763.0" width="173.2" height="98.2" fill="#fff" filter="url(#noiseB)"/>
<g clip-path="url(#ci4)"><path d="M166.8 759.0 L164.7 766.6 L165.9 774.2 L171.3 781.8 L168.9 789.3 L167.3 796.9 L167.5 804.5 L166.2 812.1 L167.9 819.7 L171.3 827.3 L171.1 834.9 L167.7 842.4 L167.5 850.0 L171.0 857.6 L168.1 865.2 L197.1 865.2 L200.3 857.6 L204.7 850.0 L205.0 842.4 L206.1 834.9 L203.9 827.3 L204.6 819.7 L201.7 812.1 L198.3 804.5 L197.9 796.9 L198.9 789.3 L199.9 781.8 L202.6 774.2 L202.6 766.6 L205.2 759.0Z" fill="#0e7c40" opacity="0.95" filter="url(#wb)"/>
<circle cx="179.6" cy="777.3" r="1.1" fill="#2fae66" opacity="0.7"/>
<circle cx="197.6" cy="800.9" r="1.1" fill="#2fae66" opacity="0.7"/>
<circle cx="185.4" cy="794.2" r="1.3" fill="#2fae66" opacity="0.7"/>
<circle cx="191.4" cy="784.3" r="1.0" fill="#2fae66" opacity="0.7"/>
<circle cx="190.3" cy="848.4" r="1.3" fill="#2fae66" opacity="0.7"/>
<circle cx="184.5" cy="851.3" r="0.9" fill="#2fae66" opacity="0.7"/>
<circle cx="111.4" cy="836.8" r="1.4" fill="#3cc47a" opacity="0.75"/>
<circle cx="108.7" cy="816.4" r="1.9" fill="#3cc47a" opacity="0.75"/>
<circle cx="159.5" cy="776.2" r="1.1" fill="#3cc47a" opacity="0.75"/>
<circle cx="250.7" cy="811.3" r="1.8" fill="#3cc47a" opacity="0.75"/>
<circle cx="110.2" cy="789.4" r="1.0" fill="#3cc47a" opacity="0.75"/>
<circle cx="111.3" cy="790.5" r="1.4" fill="#3cc47a" opacity="0.75"/>
<circle cx="152.1" cy="772.4" r="1.0" fill="#3cc47a" opacity="0.75"/>
<circle cx="262.8" cy="783.8" r="1.5" fill="#3cc47a" opacity="0.75"/>
<circle cx="115.3" cy="795.7" r="1.1" fill="#3cc47a" opacity="0.75"/>
<circle cx="254.5" cy="820.8" r="1.8" fill="#3cc47a" opacity="0.75"/>
<circle cx="136.9" cy="769.4" r="1.5" fill="#3cc47a" opacity="0.75"/>
<circle cx="163.9" cy="823.2" r="1.7" fill="#3cc47a" opacity="0.75"/>
<circle cx="253.1" cy="795.1" r="1.4" fill="#3cc47a" opacity="0.75"/>
<circle cx="238.7" cy="787.7" r="1.1" fill="#3cc47a" opacity="0.75"/>
<circle cx="153.1" cy="775.7" r="1.7" fill="#3cc47a" opacity="0.75"/>
<circle cx="237.5" cy="795.6" r="1.1" fill="#3cc47a" opacity="0.75"/>
<circle cx="114.9" cy="789.5" r="1.1" fill="#3cc47a" opacity="0.75"/>
</g>
<rect x="289.3" y="765.0" width="170.7" height="96.2" fill="#0f7a3f" />
<rect x="289.3" y="765.0" width="170.7" height="96.2" fill="#fff" filter="url(#noiseB)"/>
<g clip-path="url(#ci5)"><path d="M358.8 761.0 L362.1 768.4 L359.7 775.9 L360.3 783.3 L361.2 790.8 L364.7 798.2 L367.9 805.7 L368.6 813.1 L365.5 820.5 L365.6 828.0 L366.0 835.4 L362.0 842.9 L360.7 850.3 L357.2 857.8 L356.8 865.2 L410.4 865.2 L407.1 857.8 L409.3 850.3 L414.6 842.9 L414.0 835.4 L414.7 828.0 L412.2 820.5 L409.6 813.1 L408.5 805.7 L405.6 798.2 L402.1 790.8 L400.1 783.3 L400.4 775.9 L398.7 768.4 L399.9 761.0Z" fill="#0e7c40" opacity="0.95" filter="url(#wb)"/>
<circle cx="371.2" cy="777.8" r="1.4" fill="#2fae66" opacity="0.7"/>
<circle cx="384.2" cy="774.9" r="0.9" fill="#2fae66" opacity="0.7"/>
<circle cx="363.8" cy="801.6" r="1.4" fill="#2fae66" opacity="0.7"/>
<circle cx="402.9" cy="822.2" r="1.0" fill="#2fae66" opacity="0.7"/>
<circle cx="378.1" cy="802.0" r="1.1" fill="#2fae66" opacity="0.7"/>
<circle cx="358.2" cy="819.9" r="1.4" fill="#2fae66" opacity="0.7"/>
<circle cx="308.3" cy="815.7" r="1.2" fill="#3cc47a" opacity="0.75"/>
<circle cx="446.5" cy="838.6" r="1.1" fill="#3cc47a" opacity="0.75"/>
<circle cx="344.7" cy="849.0" r="1.4" fill="#3cc47a" opacity="0.75"/>
<circle cx="418.5" cy="850.9" r="1.5" fill="#3cc47a" opacity="0.75"/>
<circle cx="451.6" cy="821.4" r="1.1" fill="#3cc47a" opacity="0.75"/>
<circle cx="426.1" cy="806.1" r="1.0" fill="#3cc47a" opacity="0.75"/>
<circle cx="453.0" cy="772.7" r="1.5" fill="#3cc47a" opacity="0.75"/>
<circle cx="437.2" cy="803.8" r="1.2" fill="#3cc47a" opacity="0.75"/>
<circle cx="338.1" cy="787.2" r="1.5" fill="#3cc47a" opacity="0.75"/>
<circle cx="415.8" cy="790.7" r="1.3" fill="#3cc47a" opacity="0.75"/>
<circle cx="333.4" cy="854.9" r="1.8" fill="#3cc47a" opacity="0.75"/>
<circle cx="432.0" cy="823.3" r="1.4" fill="#3cc47a" opacity="0.75"/>
<circle cx="316.2" cy="841.8" r="1.4" fill="#3cc47a" opacity="0.75"/>
<circle cx="298.9" cy="784.5" r="1.1" fill="#3cc47a" opacity="0.75"/>
<circle cx="440.2" cy="787.1" r="1.7" fill="#3cc47a" opacity="0.75"/>
<circle cx="345.8" cy="828.9" r="1.8" fill="#3cc47a" opacity="0.75"/>
<circle cx="423.9" cy="802.4" r="1.0" fill="#3cc47a" opacity="0.75"/>
</g>
<rect x="95.9" y="880.8" width="170.1" height="96.5" fill="#0f7a3f" />
<rect x="95.9" y="880.8" width="170.1" height="96.5" fill="#fff" filter="url(#noiseB)"/>
<g clip-path="url(#ci6)"><path d="M129.2 876.8 L127.2 884.3 L127.7 891.7 L128.2 899.2 L130.3 906.7 L131.0 914.1 L135.3 921.6 L136.7 929.0 L135.4 936.5 L133.1 944.0 L134.4 951.4 L131.5 958.9 L128.3 966.4 L130.6 973.8 L132.8 981.3 L220.6 981.3 L223.1 973.8 L220.0 966.4 L220.3 958.9 L225.2 951.4 L227.0 944.0 L228.9 936.5 L229.0 929.0 L231.2 921.6 L230.4 914.1 L227.2 906.7 L224.7 899.2 L224.4 891.7 L228.9 884.3 L231.0 876.8Z" fill="#0e7c40" opacity="0.95" filter="url(#wb)"/>
<circle cx="215.3" cy="910.8" r="1.3" fill="#2fae66" opacity="0.7"/>
<circle cx="136.5" cy="949.6" r="1.3" fill="#2fae66" opacity="0.7"/>
<circle cx="217.8" cy="961.2" r="1.3" fill="#2fae66" opacity="0.7"/>
<circle cx="206.9" cy="948.4" r="1.3" fill="#2fae66" opacity="0.7"/>
<circle cx="149.1" cy="930.4" r="1.4" fill="#2fae66" opacity="0.7"/>
<circle cx="151.9" cy="967.5" r="1.2" fill="#2fae66" opacity="0.7"/>
<circle cx="99.8" cy="919.5" r="1.2" fill="#3cc47a" opacity="0.75"/>
<circle cx="246.2" cy="964.7" r="1.6" fill="#3cc47a" opacity="0.75"/>
<circle cx="117.1" cy="945.4" r="1.5" fill="#3cc47a" opacity="0.75"/>
<circle cx="244.1" cy="904.1" r="1.3" fill="#3cc47a" opacity="0.75"/>
<circle cx="245.8" cy="900.2" r="1.6" fill="#3cc47a" opacity="0.75"/>
<circle cx="109.5" cy="934.8" r="1.7" fill="#3cc47a" opacity="0.75"/>
<circle cx="242.8" cy="948.9" r="1.4" fill="#3cc47a" opacity="0.75"/>
<circle cx="247.0" cy="911.9" r="1.3" fill="#3cc47a" opacity="0.75"/>
<circle cx="257.1" cy="901.9" r="1.0" fill="#3cc47a" opacity="0.75"/>
<circle cx="118.2" cy="934.5" r="1.5" fill="#3cc47a" opacity="0.75"/>
</g>
<rect x="289.3" y="880.2" width="172.4" height="97.1" fill="#0f7a3f" />
<rect x="289.3" y="880.2" width="172.4" height="97.1" fill="#fff" filter="url(#noiseB)"/>
<g clip-path="url(#ci7)"><path d="M311.6 876.2 L307.8 883.7 L312.9 891.2 L311.3 898.7 L313.8 906.2 L311.8 913.7 L316.4 921.2 L312.7 928.8 L310.6 936.3 L309.3 943.8 L308.1 951.3 L312.7 958.8 L315.5 966.3 L317.7 973.8 L316.0 981.3 L435.8 981.3 L435.2 973.8 L433.5 966.3 L434.0 958.8 L432.6 951.3 L430.3 943.8 L427.6 936.3 L430.9 928.8 L436.3 921.2 L440.7 913.7 L443.8 906.2 L444.5 898.7 L445.4 891.2 L443.6 883.7 L446.4 876.2Z" fill="#0e7c40" opacity="0.95" filter="url(#wb)"/>
<circle cx="326.7" cy="896.4" r="0.9" fill="#2fae66" opacity="0.7"/>
<circle cx="338.3" cy="918.5" r="1.2" fill="#2fae66" opacity="0.7"/>
<circle cx="391.4" cy="948.6" r="1.0" fill="#2fae66" opacity="0.7"/>
<circle cx="360.3" cy="932.3" r="1.1" fill="#2fae66" opacity="0.7"/>
<circle cx="328.3" cy="936.7" r="1.1" fill="#2fae66" opacity="0.7"/>
<circle cx="391.8" cy="928.4" r="1.5" fill="#2fae66" opacity="0.7"/>
<circle cx="449.2" cy="891.4" r="1.7" fill="#3cc47a" opacity="0.75"/>
<circle cx="444.7" cy="918.4" r="1.3" fill="#3cc47a" opacity="0.75"/>
<circle cx="301.1" cy="921.8" r="1.2" fill="#3cc47a" opacity="0.75"/>
<circle cx="304.9" cy="908.7" r="1.1" fill="#3cc47a" opacity="0.75"/>
<circle cx="455.7" cy="932.4" r="1.3" fill="#3cc47a" opacity="0.75"/>
<circle cx="447.3" cy="893.1" r="1.3" fill="#3cc47a" opacity="0.75"/>
<circle cx="293.6" cy="952.0" r="1.3" fill="#3cc47a" opacity="0.75"/>
<circle cx="295.5" cy="907.0" r="1.4" fill="#3cc47a" opacity="0.75"/>
</g>
<text x="588.5" y="480.7" font-size="16.5" font-weight="bold" text-anchor="middle" fill="#000" >ARK1</text>
<line x1="547.8" y1="658.3" x2="547.8" y2="656.0" stroke="#555" stroke-width="1.3"/>
<line x1="543.2" y1="656.0" x2="552.2" y2="656.0" stroke="#555" stroke-width="1.3"/>
<rect x="537.6" y="658.3" width="20.3" height="22.0" fill="#000" />
<line x1="574.8" y1="645.4" x2="574.8" y2="641.2" stroke="#555" stroke-width="1.3"/>
<line x1="570.3" y1="641.2" x2="579.3" y2="641.2" stroke="#555" stroke-width="1.3"/>
<path d="M565.9 680.3V646.5H583.8V680.3" fill="#b0afb4" stroke="#000" stroke-width="2.3" stroke-linejoin="round"/>
<line x1="602.2" y1="575.9" x2="602.2" y2="565.4" stroke="#555" stroke-width="1.3"/>
<line x1="597.7" y1="565.4" x2="606.7" y2="565.4" stroke="#555" stroke-width="1.3"/>
<path d="M592.9 680.3V577.0H611.5V680.3" fill="#939393" stroke="#000" stroke-width="2.3" stroke-linejoin="round"/>
<line x1="629.0" y1="533.1" x2="629.0" y2="516.5" stroke="#555" stroke-width="1.3"/>
<line x1="624.5" y1="516.5" x2="633.5" y2="516.5" stroke="#555" stroke-width="1.3"/>
<path d="M620.1 680.3V534.2H638.0V680.3" fill="#dcdcdc" stroke="#000" stroke-width="2.3" stroke-linejoin="round"/>
<line x1="529.6" y1="503.0" x2="529.6" y2="681.1" stroke="#111" stroke-width="1.7"/>
<line x1="522.0" y1="680.3" x2="646.9" y2="680.3" stroke="#111" stroke-width="1.7"/>
<line x1="522.0" y1="680.3" x2="529.6" y2="680.3" stroke="#111" stroke-width="1.7"/>
<text x="521.5" y="684.9" font-size="12.8" font-weight="bold" text-anchor="end" fill="#111" >0</text>
<line x1="522.0" y1="636.2" x2="529.6" y2="636.2" stroke="#111" stroke-width="1.7"/>
<text x="521.5" y="640.8" font-size="12.8" font-weight="bold" text-anchor="end" fill="#111" >2</text>
<line x1="522.0" y1="592.1" x2="529.6" y2="592.1" stroke="#111" stroke-width="1.7"/>
<text x="521.5" y="596.7" font-size="12.8" font-weight="bold" text-anchor="end" fill="#111" >4</text>
<line x1="522.0" y1="548.0" x2="529.6" y2="548.0" stroke="#111" stroke-width="1.7"/>
<text x="521.5" y="552.6" font-size="12.8" font-weight="bold" text-anchor="end" fill="#111" >6</text>
<line x1="522.0" y1="503.9" x2="529.6" y2="503.9" stroke="#111" stroke-width="1.7"/>
<text x="521.5" y="508.5" font-size="12.8" font-weight="bold" text-anchor="end" fill="#111" >8</text>
<line x1="547.8" y1="680.3" x2="547.8" y2="687.3" stroke="#111" stroke-width="1.7"/>
<text x="547.8" y="700.8" font-size="12.8" font-weight="bold" text-anchor="middle" fill="#111" >C</text>
<line x1="574.8" y1="680.3" x2="574.8" y2="687.3" stroke="#111" stroke-width="1.7"/>
<text x="574.8" y="700.8" font-size="12.8" font-weight="bold" text-anchor="middle" fill="#111" >0.05</text>
<line x1="602.2" y1="680.3" x2="602.2" y2="687.3" stroke="#111" stroke-width="1.7"/>
<text x="602.2" y="700.8" font-size="12.8" font-weight="bold" text-anchor="middle" fill="#111" >0.5</text>
<line x1="629.0" y1="680.3" x2="629.0" y2="687.3" stroke="#111" stroke-width="1.7"/>
<text x="629.0" y="700.8" font-size="12.8" font-weight="bold" text-anchor="middle" fill="#111" >5</text>
<text x="588.6" y="724.2" font-size="14.2" font-weight="bold" text-anchor="middle" fill="#111" >ONC206 (uM)</text>
<text x="504.2" y="592.1" font-size="14.1" font-weight="bold" text-anchor="middle" fill="#111" transform="rotate(-90 504.2 592.1)" >Relative Wound Width</text>
<text x="588.3" y="767.9" font-size="16.5" font-weight="bold" text-anchor="middle" fill="#000" >SPEC2</text>
<line x1="547.8" y1="907.8" x2="547.8" y2="899.0" stroke="#555" stroke-width="1.3"/>
<line x1="543.2" y1="899.0" x2="552.2" y2="899.0" stroke="#555" stroke-width="1.3"/>
<rect x="537.5" y="907.8" width="20.5" height="58.4" fill="#000" />
<line x1="574.5" y1="889.4" x2="574.5" y2="880.0" stroke="#555" stroke-width="1.3"/>
<line x1="570.0" y1="880.0" x2="579.0" y2="880.0" stroke="#555" stroke-width="1.3"/>
<path d="M565.6 966.2V890.5H583.5V966.2" fill="#b0afb4" stroke="#000" stroke-width="2.3" stroke-linejoin="round"/>
<line x1="601.8" y1="849.9" x2="601.8" y2="837.6" stroke="#555" stroke-width="1.3"/>
<line x1="597.2" y1="837.6" x2="606.2" y2="837.6" stroke="#555" stroke-width="1.3"/>
<path d="M592.9 966.2V851.0H610.6V966.2" fill="#939393" stroke="#000" stroke-width="2.3" stroke-linejoin="round"/>
<line x1="628.5" y1="836.5" x2="628.5" y2="828.5" stroke="#555" stroke-width="1.3"/>
<line x1="624.0" y1="828.5" x2="633.0" y2="828.5" stroke="#555" stroke-width="1.3"/>
<path d="M619.5 966.2V837.6H637.4V966.2" fill="#dcdcdc" stroke="#000" stroke-width="2.3" stroke-linejoin="round"/>
<line x1="529.8" y1="790.0" x2="529.8" y2="967.1" stroke="#111" stroke-width="1.7"/>
<line x1="522.2" y1="966.2" x2="645.9" y2="966.2" stroke="#111" stroke-width="1.7"/>
<line x1="522.2" y1="966.2" x2="529.8" y2="966.2" stroke="#111" stroke-width="1.7"/>
<text x="521.7" y="970.8" font-size="12.8" font-weight="bold" text-anchor="end" fill="#111" >0</text>
<line x1="522.2" y1="907.8" x2="529.8" y2="907.8" stroke="#111" stroke-width="1.7"/>
<text x="521.7" y="912.4" font-size="12.8" font-weight="bold" text-anchor="end" fill="#111" >1</text>
<line x1="522.2" y1="849.3" x2="529.8" y2="849.3" stroke="#111" stroke-width="1.7"/>
<text x="521.7" y="853.9" font-size="12.8" font-weight="bold" text-anchor="end" fill="#111" >2</text>
<line x1="522.2" y1="790.9" x2="529.8" y2="790.9" stroke="#111" stroke-width="1.7"/>
<text x="521.7" y="795.5" font-size="12.8" font-weight="bold" text-anchor="end" fill="#111" >3</text>
<line x1="547.8" y1="966.2" x2="547.8" y2="973.2" stroke="#111" stroke-width="1.7"/>
<text x="547.8" y="986.6" font-size="12.8" font-weight="bold" text-anchor="middle" fill="#111" >C</text>
<line x1="574.5" y1="966.2" x2="574.5" y2="973.2" stroke="#111" stroke-width="1.7"/>
<text x="574.5" y="986.6" font-size="12.8" font-weight="bold" text-anchor="middle" fill="#111" >0.05</text>
<line x1="601.8" y1="966.2" x2="601.8" y2="973.2" stroke="#111" stroke-width="1.7"/>
<text x="601.8" y="986.6" font-size="12.8" font-weight="bold" text-anchor="middle" fill="#111" >0.5</text>
<line x1="628.5" y1="966.2" x2="628.5" y2="973.2" stroke="#111" stroke-width="1.7"/>
<text x="628.5" y="986.6" font-size="12.8" font-weight="bold" text-anchor="middle" fill="#111" >5</text>
<text x="588.2" y="1008.5" font-size="14.2" font-weight="bold" text-anchor="middle" fill="#111" >ONC206 (uM)</text>
<text x="503.9" y="878.3" font-size="14.1" font-weight="bold" text-anchor="middle" fill="#111" transform="rotate(-90 503.9 878.3)" >Relative Wound Width</text>
<text x="574.9" y="633.5" font-size="10.5" font-weight="bold" text-anchor="middle" fill="#444"  letter-spacing="0.8" transform="rotate(90 574.5 628.1)">**</text>
<text x="601.8" y="557.6" font-size="10.5" font-weight="bold" text-anchor="middle" fill="#444"  letter-spacing="0.8" transform="rotate(90 601.4 552.2)">**</text>
<text x="628.8" y="509.3" font-size="10.5" font-weight="bold" text-anchor="middle" fill="#444"  letter-spacing="0.8" transform="rotate(90 628.4 503.9)">**</text>
<text x="574.6" y="873.0" font-size="10.5" font-weight="bold" text-anchor="middle" fill="#444"  letter-spacing="0.8" transform="rotate(90 574.2 867.6)">**</text>
<text x="601.5" y="830.3" font-size="10.5" font-weight="bold" text-anchor="middle" fill="#444"  letter-spacing="0.8" transform="rotate(90 601.1 824.9)">**</text>
<text x="628.8" y="821.3" font-size="10.5" font-weight="bold" text-anchor="middle" fill="#444"  letter-spacing="0.8" transform="rotate(90 628.4 815.9)">**</text>
<text x="725.5" y="491.0" font-size="29" font-weight="bold" text-anchor="start" fill="#000" >D</text>
<text x="866.6" y="538.4" font-size="22" font-weight="bold" text-anchor="start" fill="#000" textLength="51.4" lengthAdjust="spacingAndGlyphs" stroke="#000" stroke-width="0.6">ARK1</text>
<text x="692.2" y="585.8" font-size="22" font-weight="bold" text-anchor="start" fill="#000" textLength="77.0" lengthAdjust="spacingAndGlyphs" stroke="#000" stroke-width="0.6">ONC206</text>
<text x="800.1" y="585.8" font-size="22" font-weight="bold" text-anchor="start" fill="#000" textLength="14.2" lengthAdjust="spacingAndGlyphs" stroke="#000" stroke-width="0.6">C</text>
<text x="859.7" y="585.8" font-size="22" font-weight="bold" text-anchor="start" fill="#000" textLength="40.6" lengthAdjust="spacingAndGlyphs" stroke="#000" stroke-width="0.6">0.05</text>
<text x="921.1" y="585.8" font-size="22" font-weight="bold" text-anchor="start" fill="#000" textLength="30.4" lengthAdjust="spacingAndGlyphs" stroke="#000" stroke-width="0.6">0.5</text>
<text x="982.5" y="585.8" font-size="22" font-weight="bold" text-anchor="start" fill="#000" textLength="12.3" lengthAdjust="spacingAndGlyphs" stroke="#000" stroke-width="0.6">5</text>
<text x="1246.6" y="538.8" font-size="22" font-weight="bold" text-anchor="start" fill="#000" textLength="59.2" lengthAdjust="spacingAndGlyphs" stroke="#000" stroke-width="0.6">SPEC2</text>
<text x="1181.3" y="586.5" font-size="22" font-weight="bold" text-anchor="start" fill="#000" textLength="13.4" lengthAdjust="spacingAndGlyphs" stroke="#000" stroke-width="0.6">C</text>
<text x="1230.1" y="586.5" font-size="22" font-weight="bold" text-anchor="start" fill="#000" textLength="40.8" lengthAdjust="spacingAndGlyphs" stroke="#000" stroke-width="0.6">0.05</text>
<text x="1296.7" y="586.5" font-size="22" font-weight="bold" text-anchor="start" fill="#000" textLength="30.0" lengthAdjust="spacingAndGlyphs" stroke="#000" stroke-width="0.6">0.5</text>
<text x="1357.3" y="586.5" font-size="22" font-weight="bold" text-anchor="start" fill="#000" textLength="66.1" lengthAdjust="spacingAndGlyphs" stroke="#000" stroke-width="0.6">5 (uM)</text>
<text x="1055.8" y="625.9" font-size="22" font-weight="bold" text-anchor="start" fill="#000" textLength="40.8" lengthAdjust="spacingAndGlyphs" stroke="#000" stroke-width="0.6">Slug</text>
<text x="1052.3" y="679.5" font-size="22" font-weight="bold" text-anchor="start" fill="#000" textLength="46.5" lengthAdjust="spacingAndGlyphs" stroke="#000" stroke-width="0.6">Snail</text>
<text x="1029.7" y="731.8" font-size="22" font-weight="bold" text-anchor="start" fill="#000" textLength="107.9" lengthAdjust="spacingAndGlyphs" stroke="#000" stroke-width="0.6">N-Cadherin</text>
<text x="1039.3" y="784.1" font-size="22" font-weight="bold" text-anchor="start" fill="#000" textLength="87.0" lengthAdjust="spacingAndGlyphs" stroke="#000" stroke-width="0.6">Vimentin</text>
<text x="1040.1" y="835.0" font-size="22" font-weight="bold" text-anchor="start" fill="#000" textLength="69.6" lengthAdjust="spacingAndGlyphs" stroke="#000" stroke-width="0.6">VEGF-C</text>
<text x="1034.1" y="887.3" font-size="22" font-weight="bold" text-anchor="start" fill="#000" textLength="92.2" lengthAdjust="spacingAndGlyphs" stroke="#000" stroke-width="0.6">α-Tubulin</text>
<rect x="775.8" y="598.4" width="231.7" height="41.1" fill="#ebebeb" />
<rect x="775.8" y="598.4" width="231.7" height="41.1" fill="#000" filter="url(#bgn)"/>
<g clip-path="url(#c0)">
<rect x="788.5" y="614.5" width="46.0" height="6.5" rx="3.2" fill="#000" opacity="0.3" filter="url(#b2)"/>
<rect x="848.4" y="613.8" width="41.8" height="6.5" rx="3.2" fill="#000" opacity="0.32" filter="url(#b2)"/>
<rect x="905.0" y="615.0" width="37.0" height="6.0" rx="3.0" fill="#000" opacity="0.08" filter="url(#b2)"/>
<rect x="960.0" y="614.0" width="35.0" height="6.0" rx="3.0" fill="#000" opacity="0.05" filter="url(#b2)"/>
</g>
<rect x="775.8" y="598.4" width="231.7" height="41.1" fill="none" stroke="#000" stroke-width="1.8" />
<rect x="775.8" y="652.9" width="231.7" height="41.4" fill="#e6e6e6" />
<rect x="775.8" y="652.9" width="231.7" height="41.4" fill="#000" filter="url(#bgn)"/>
<g clip-path="url(#c1)">
<rect x="777.5" y="663.4" width="47.7" height="20.0" rx="10.0" fill="#000" opacity="0.22" filter="url(#b3)"/>
<rect x="779.5" y="666.9" width="43.7" height="13.0" rx="6.5" fill="#000" opacity="1" filter="url(#b2)"/>
<rect x="832.0" y="661.1" width="50.6" height="23.0" rx="11.5" fill="#000" opacity="0.22" filter="url(#b3)"/>
<rect x="834.0" y="664.6" width="46.6" height="16.0" rx="8.0" fill="#000" opacity="1" filter="url(#b2)"/>
<rect x="891.5" y="665.4" width="46.7" height="15.5" rx="7.8" fill="#000" opacity="0.22" filter="url(#b3)"/>
<rect x="893.5" y="668.9" width="42.7" height="8.5" rx="4.2" fill="#000" opacity="0.8" filter="url(#b2)"/>
<rect x="925.0" y="668.5" width="11.0" height="9.0" rx="4.5" fill="#000" opacity="0.5" filter="url(#b2)"/>
<rect x="895.0" y="668.5" width="15.0" height="9.0" rx="4.5" fill="#000" opacity="0.4" filter="url(#b2)"/>
<rect x="951.0" y="669.4" width="46.9" height="8.0" rx="4.0" fill="#000" opacity="0.45" filter="url(#b2)"/>
</g>
<rect x="775.8" y="652.9" width="231.7" height="41.4" fill="none" stroke="#000" stroke-width="1.8" />
<rect x="776.6" y="706.1" width="231.2" height="42.9" fill="#e5e5e5" />
<rect x="776.6" y="706.1" width="231.2" height="42.9" fill="#000" filter="url(#bgn)"/>
<g clip-path="url(#c2)">
<rect x="784.5" y="717.2" width="53.8" height="21.0" rx="10.5" fill="#000" opacity="0.22" filter="url(#b3)"/>
<rect x="786.5" y="720.7" width="49.8" height="14.0" rx="7.0" fill="#000" opacity="1" filter="url(#b2)"/>
<rect x="844.0" y="714.6" width="47.3" height="22.0" rx="11.0" fill="#000" opacity="0.22" filter="url(#b3)"/>
<rect x="846.0" y="718.1" width="43.3" height="15.0" rx="7.5" fill="#000" opacity="1" filter="url(#b2)"/>
<rect x="896.5" y="717.6" width="50.4" height="16.0" rx="8.0" fill="#000" opacity="0.22" filter="url(#b3)"/>
<rect x="898.5" y="721.1" width="46.4" height="9.0" rx="4.5" fill="#000" opacity="0.9" filter="url(#b2)"/>
<rect x="955.3" y="722.0" width="43.5" height="9.0" rx="4.5" fill="#000" opacity="0.5" filter="url(#b2)"/>
</g>
<rect x="776.6" y="706.1" width="231.2" height="42.9" fill="none" stroke="#000" stroke-width="1.8" />
<rect x="776.6" y="757.8" width="233.0" height="41.7" fill="#e8e8e8" />
<rect x="776.6" y="757.8" width="233.0" height="41.7" fill="#000" filter="url(#bgn)"/>
<g clip-path="url(#c3)">
<rect x="784.7" y="768.2" width="162.3" height="15.5" rx="7.8" fill="#000" opacity="0.22" filter="url(#b3)"/>
<rect x="786.7" y="771.8" width="158.3" height="8.5" rx="4.2" fill="#000" opacity="1" filter="url(#b1)"/>
<rect x="949.3" y="773.2" width="48.6" height="5.0" rx="2.5" fill="#000" opacity="0.22" filter="url(#b2)"/>
<rect x="789.3" y="781.8" width="50.4" height="4.0" rx="2.0" fill="#000" opacity="0.5" filter="url(#b1)"/>
<rect x="789.3" y="786.4" width="50.4" height="4.0" rx="2.0" fill="#000" opacity="0.55" filter="url(#b1)"/>
<rect x="850.2" y="782.0" width="40.8" height="4.0" rx="2.0" fill="#000" opacity="0.5" filter="url(#b1)"/>
<rect x="850.2" y="786.6" width="40.8" height="4.0" rx="2.0" fill="#000" opacity="0.6" filter="url(#b1)"/>
<rect x="902.3" y="782.0" width="29.6" height="4.0" rx="2.0" fill="#000" opacity="0.5" filter="url(#b1)"/>
<rect x="902.3" y="786.4" width="31.7" height="4.0" rx="2.0" fill="#000" opacity="0.55" filter="url(#b1)"/>
<rect x="952.0" y="785.9" width="43.0" height="4.0" rx="2.0" fill="#000" opacity="0.09" filter="url(#b2)"/>
</g>
<rect x="776.6" y="757.8" width="233.0" height="41.7" fill="none" stroke="#000" stroke-width="1.8" />
<rect x="777.5" y="809.4" width="231.2" height="39.2" fill="#ececec" />
<rect x="777.5" y="809.4" width="231.2" height="39.2" fill="#000" filter="url(#bgn)"/>
<g clip-path="url(#c4)">
<rect x="785.0" y="825.9" width="48.7" height="6.5" rx="3.2" fill="#000" opacity="1" filter="url(#b1)"/>
<rect x="842.4" y="825.4" width="53.8" height="6.5" rx="3.2" fill="#000" opacity="1" filter="url(#b1)"/>
<rect x="904.0" y="825.4" width="40.0" height="7.5" rx="3.8" fill="#000" opacity="1" filter="url(#b1)"/>
<rect x="954.5" y="827.8" width="48.6" height="5.0" rx="2.5" fill="#000" opacity="0.55" filter="url(#b1)"/>
</g>
<rect x="777.5" y="809.4" width="231.2" height="39.2" fill="none" stroke="#000" stroke-width="1.8" />
<rect x="774.0" y="858.6" width="231.7" height="43.8" fill="#e6e6e6" />
<rect x="774.0" y="858.6" width="231.7" height="43.8" fill="#000" filter="url(#bgn)"/>
<g clip-path="url(#c5)">
<rect x="780.4" y="871.1" width="60.5" height="23.0" rx="11.5" fill="#000" opacity="0.22" filter="url(#b3)"/>
<rect x="782.4" y="874.6" width="56.5" height="16.0" rx="8.0" fill="#000" opacity="1" filter="url(#b3)"/>
<rect x="784.0" y="869.0" width="30.0" height="21.0" rx="10.5" fill="#000" opacity="0.22" filter="url(#b3)"/>
<rect x="786.0" y="872.5" width="26.0" height="14.0" rx="7.0" fill="#000" opacity="1" filter="url(#b3)"/>
<rect x="839.5" y="876.1" width="56.1" height="19.0" rx="9.5" fill="#000" opacity="0.22" filter="url(#b3)"/>
<rect x="841.5" y="879.6" width="52.1" height="12.0" rx="6.0" fill="#000" opacity="1" filter="url(#b3)"/>
<rect x="894.2" y="876.4" width="57.9" height="20.0" rx="10.0" fill="#000" opacity="0.22" filter="url(#b3)"/>
<rect x="896.2" y="879.9" width="53.9" height="13.0" rx="6.5" fill="#000" opacity="1" filter="url(#b3)"/>
<rect x="949.0" y="875.9" width="61.0" height="21.0" rx="10.5" fill="#000" opacity="0.22" filter="url(#b3)"/>
<rect x="951.0" y="879.4" width="57.0" height="14.0" rx="7.0" fill="#000" opacity="1" filter="url(#b3)"/>
<rect x="788.0" y="877.5" width="214.0" height="15.0" rx="7.5" fill="#000" opacity="0.22" filter="url(#b3)"/>
<rect x="790.0" y="881.0" width="210.0" height="8.0" rx="4.0" fill="#000" opacity="1" filter="url(#b3)"/>
</g>
<rect x="774.0" y="858.6" width="231.7" height="43.8" fill="none" stroke="#000" stroke-width="1.8" />
<rect x="1152.9" y="599.2" width="245.2" height="43.6" fill="url(#sg)" />
<rect x="1152.9" y="599.2" width="245.2" height="43.6" fill="#000" filter="url(#bgn)"/>
<g clip-path="url(#c6)">
<rect x="1154.7" y="613.2" width="50.6" height="7.5" rx="3.8" fill="#000" opacity="0.6" filter="url(#b2)"/>
<rect x="1183.0" y="615.5" width="22.3" height="7.0" rx="3.5" fill="#000" opacity="0.35" filter="url(#b2)"/>
<rect x="1219.1" y="615.1" width="46.1" height="7.5" rx="3.8" fill="#000" opacity="0.7" filter="url(#b2)"/>
<rect x="1279.9" y="615.4" width="42.3" height="7.0" rx="3.5" fill="#000" opacity="0.25" filter="url(#b2)"/>
<rect x="1338.8" y="616.0" width="46.0" height="7.0" rx="3.5" fill="#000" opacity="0.09" filter="url(#b2)"/>
</g>
<rect x="1152.9" y="599.2" width="245.2" height="43.6" fill="none" stroke="#000" stroke-width="1.8" />
<rect x="1152.9" y="648.5" width="245.2" height="46.0" fill="#ececec" />
<rect x="1152.9" y="648.5" width="245.2" height="46.0" fill="#000" filter="url(#bgn)"/>
<g clip-path="url(#c7)">
<rect x="1155.5" y="661.6" width="50.9" height="18.0" rx="9.0" fill="#000" opacity="0.22" filter="url(#b3)"/>
<rect x="1157.5" y="665.1" width="46.9" height="11.0" rx="5.5" fill="#000" opacity="1" filter="url(#b2)"/>
<rect x="1214.4" y="662.6" width="53.7" height="18.5" rx="9.2" fill="#000" opacity="0.22" filter="url(#b3)"/>
<rect x="1216.4" y="666.1" width="49.7" height="11.5" rx="5.8" fill="#000" opacity="1" filter="url(#b2)"/>
<rect x="1277.1" y="669.2" width="46.0" height="8.0" rx="4.0" fill="#000" opacity="0.38" filter="url(#b2)"/>
<rect x="1336.0" y="667.5" width="48.8" height="7.0" rx="3.5" fill="#000" opacity="0.32" filter="url(#b2)"/>
</g>
<rect x="1152.9" y="648.5" width="245.2" height="46.0" fill="none" stroke="#000" stroke-width="1.8" />
<rect x="1153.8" y="702.6" width="245.4" height="47.2" fill="#dcdcdc" />
<rect x="1153.8" y="702.6" width="245.4" height="47.2" fill="#000" filter="url(#bgn)"/>
<g clip-path="url(#c8)">
<rect x="1159.2" y="714.5" width="61.9" height="20.0" rx="10.0" fill="#000" opacity="0.22" filter="url(#b3)"/>
<rect x="1161.2" y="718.0" width="57.9" height="13.0" rx="6.5" fill="#000" opacity="1" filter="url(#b3)"/>
<rect x="1160.0" y="704.5" width="34.0" height="23.0" rx="11.5" fill="#000" opacity="0.22" filter="url(#b3)"/>
<rect x="1162.0" y="708.0" width="30.0" height="16.0" rx="8.0" fill="#000" opacity="1" filter="url(#b3)"/>
<rect x="1227.3" y="718.1" width="53.7" height="18.0" rx="9.0" fill="#000" opacity="0.22" filter="url(#b3)"/>
<rect x="1229.3" y="721.6" width="49.7" height="11.0" rx="5.5" fill="#000" opacity="0.8" filter="url(#b3)"/>
<rect x="1262.0" y="715.5" width="19.0" height="20.0" rx="10.0" fill="#000" opacity="0.22" filter="url(#b3)"/>
<rect x="1264.0" y="719.0" width="15.0" height="13.0" rx="6.5" fill="#000" opacity="0.8" filter="url(#b2)"/>
<rect x="1285.2" y="716.7" width="51.9" height="19.0" rx="9.5" fill="#000" opacity="0.22" filter="url(#b3)"/>
<rect x="1287.2" y="720.2" width="47.9" height="12.0" rx="6.0" fill="#000" opacity="0.9" filter="url(#b3)"/>
<rect x="1343.2" y="717.1" width="53.7" height="19.0" rx="9.5" fill="#000" opacity="0.22" filter="url(#b3)"/>
<rect x="1345.2" y="720.6" width="49.7" height="12.0" rx="6.0" fill="#000" opacity="0.85" filter="url(#b3)"/>
</g>
<rect x="1153.8" y="702.6" width="245.4" height="47.2" fill="none" stroke="#000" stroke-width="1.8" />
<rect x="1152.9" y="755.9" width="247.5" height="43.2" fill="#e4e4e4" />
<rect x="1152.9" y="755.9" width="247.5" height="43.2" fill="#000" filter="url(#bgn)"/>
<g clip-path="url(#c9)">
<rect x="1152.7" y="770.1" width="53.7" height="15.0" rx="7.5" fill="#000" opacity="0.22" filter="url(#b3)"/>
<rect x="1154.7" y="773.6" width="49.7" height="8.0" rx="4.0" fill="#000" opacity="1" filter="url(#b1)"/>
<rect x="1160.0" y="761.0" width="41.5" height="21.0" rx="10.5" fill="#000" opacity="0.22" filter="url(#b3)"/>
<rect x="1162.0" y="764.5" width="37.5" height="14.0" rx="7.0" fill="#000" opacity="0.95" filter="url(#b2)"/>
<rect x="1204.3" y="771.6" width="61.0" height="15.5" rx="7.8" fill="#000" opacity="0.22" filter="url(#b3)"/>
<rect x="1206.3" y="775.1" width="57.0" height="8.5" rx="4.2" fill="#000" opacity="1" filter="url(#b1)"/>
<rect x="1265.0" y="771.6" width="61.0" height="15.5" rx="7.8" fill="#000" opacity="0.22" filter="url(#b3)"/>
<rect x="1267.0" y="775.1" width="57.0" height="8.5" rx="4.2" fill="#000" opacity="1" filter="url(#b1)"/>
<rect x="1325.9" y="774.2" width="64.4" height="7.5" rx="3.8" fill="#000" opacity="1" filter="url(#b1)"/>
<rect x="1200.0" y="776.0" width="130.0" height="6.0" rx="3.0" fill="#000" opacity="1" filter="url(#b1)"/>
<rect x="1163.9" y="783.8" width="36.8" height="6.0" rx="3.0" fill="#000" opacity="0.5" filter="url(#b2)"/>
<rect x="1211.8" y="784.2" width="47.8" height="6.0" rx="3.0" fill="#000" opacity="0.5" filter="url(#b2)"/>
<rect x="1270.7" y="784.2" width="47.8" height="6.0" rx="3.0" fill="#000" opacity="0.45" filter="url(#b2)"/>
<rect x="1331.4" y="783.5" width="51.6" height="6.0" rx="3.0" fill="#000" opacity="0.45" filter="url(#b2)"/>
</g>
<rect x="1152.9" y="755.9" width="247.5" height="43.2" fill="none" stroke="#000" stroke-width="1.8" />
<rect x="1152.9" y="807.4" width="247.5" height="42.9" fill="#e9e9e9" />
<rect x="1152.9" y="807.4" width="247.5" height="42.9" fill="#000" filter="url(#bgn)"/>
<g clip-path="url(#c10)">
<rect x="1156.6" y="826.9" width="60.7" height="6.5" rx="3.2" fill="#000" opacity="1" filter="url(#b1)"/>
<rect x="1225.6" y="827.8" width="50.6" height="5.0" rx="2.5" fill="#000" opacity="0.6" filter="url(#b1)"/>
<rect x="1227.0" y="827.0" width="18.0" height="5.5" rx="2.8" fill="#000" opacity="0.5" filter="url(#b1)"/>
<rect x="1286.3" y="827.6" width="47.0" height="5.0" rx="2.5" fill="#000" opacity="0.5" filter="url(#b1)"/>
<rect x="1288.0" y="827.1" width="15.0" height="6.0" rx="3.0" fill="#000" opacity="0.45" filter="url(#b1)"/>
<rect x="1322.0" y="827.2" width="10.0" height="5.5" rx="2.8" fill="#000" opacity="0.4" filter="url(#b1)"/>
<rect x="1341.5" y="828.3" width="56.2" height="5.0" rx="2.5" fill="#000" opacity="0.4" filter="url(#b1)"/>
<rect x="1343.0" y="826.8" width="19.0" height="6.0" rx="3.0" fill="#000" opacity="0.4" filter="url(#b1)"/>
</g>
<rect x="1152.9" y="807.4" width="247.5" height="42.9" fill="none" stroke="#000" stroke-width="1.8" />
<rect x="1152.9" y="859.5" width="247.5" height="42.3" fill="#e3e3e3" />
<rect x="1152.9" y="859.5" width="247.5" height="42.3" fill="#000" filter="url(#bgn)"/>
<g clip-path="url(#c11)">
<rect x="1157.3" y="872.7" width="53.7" height="19.0" rx="9.5" fill="#000" opacity="0.22" filter="url(#b3)"/>
<rect x="1159.3" y="876.2" width="49.7" height="12.0" rx="6.0" fill="#000" opacity="1" filter="url(#b2)"/>
<rect x="1213.5" y="874.4" width="62.9" height="18.0" rx="9.0" fill="#000" opacity="0.22" filter="url(#b3)"/>
<rect x="1215.5" y="877.9" width="58.9" height="11.0" rx="5.5" fill="#000" opacity="1" filter="url(#b2)"/>
<rect x="1277.0" y="871.1" width="58.3" height="21.0" rx="10.5" fill="#000" opacity="0.22" filter="url(#b3)"/>
<rect x="1279.0" y="874.6" width="54.3" height="14.0" rx="7.0" fill="#000" opacity="1" filter="url(#b2)"/>
<rect x="1335.9" y="870.2" width="68.1" height="21.0" rx="10.5" fill="#000" opacity="0.22" filter="url(#b3)"/>
<rect x="1337.9" y="873.7" width="64.1" height="14.0" rx="7.0" fill="#000" opacity="1" filter="url(#b2)"/>
<rect x="1163.0" y="865.3" width="42.0" height="5.0" rx="2.5" fill="#000" opacity="0.1" filter="url(#b2)"/>
<rect x="1220.0" y="866.0" width="45.0" height="5.0" rx="2.5" fill="#000" opacity="0.08" filter="url(#b2)"/>
</g>
<rect x="1152.9" y="859.5" width="247.5" height="42.3" fill="none" stroke="#000" stroke-width="1.8" />
</svg>
</body></html>
